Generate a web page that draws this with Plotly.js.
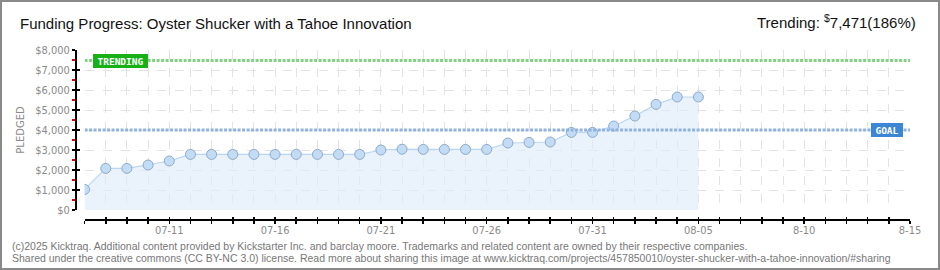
<!DOCTYPE html>
<html>
<head>
<meta charset="utf-8">
<script src="https://cdn.plot.ly/plotly-3.0.1.min.js"></script>
<style>
html,body{margin:0;padding:0;background:#fff;}
#wrap{position:relative;width:940px;height:270px;}
#chart{width:940px;height:270px;}
#border{position:absolute;left:0;top:0;width:940px;height:270px;box-sizing:border-box;border:2px solid #8a8a8a;pointer-events:none;}
</style>
</head>
<body>
<div id="wrap"><div id="chart"></div><div id="border"></div></div>
<script>
// ---- data ----
const dates = ['2025-07-07','2025-07-08','2025-07-09','2025-07-10','2025-07-11','2025-07-12','2025-07-13','2025-07-14','2025-07-15','2025-07-16','2025-07-17','2025-07-18','2025-07-19','2025-07-20','2025-07-21','2025-07-22','2025-07-23','2025-07-24','2025-07-25','2025-07-26','2025-07-27','2025-07-28','2025-07-29','2025-07-30','2025-07-31','2025-08-01','2025-08-02','2025-08-03','2025-08-04','2025-08-05'];
const pledged = [1030,2080,2080,2250,2450,2780,2780,2780,2780,2780,2780,2780,2780,2780,3000,3040,3030,3030,3030,3030,3350,3380,3400,3880,3880,4200,4700,5280,5650,5650];
const goal = 4000;
const trending = 7471;
const trendingLabel = 'Trending: <sup>$</sup>7,471(186%)';
const titleText = 'Funding Progress: Oyster Shucker with a Tahoe Innovation';
const xTickVals = ['2025-07-11','2025-07-16','2025-07-21','2025-07-26','2025-07-31','2025-08-05','2025-08-10','2025-08-15'];
const xTickText = ['07-11','07-16','07-21','07-26','07-31','08-05','8-10','8-15'];
const xRange = ['2025-07-07','2025-08-15'];
const yRange = [0, 8000];
const footer1 = '(c)2025 Kicktraq. Additional content provided by Kickstarter Inc. and barclay moore. Trademarks and related content are owned by their respective companies.';
const footer2 = 'Shared under the creative commons (CC BY-NC 3.0) license. Read more about sharing this image at www.kicktraq.com/projects/457850010/oyster-shucker-with-a-tahoe-innovation/#sharing';

// ---- layout geometry ----
const W = 940, H = 270;
const mL = 76, mR = 30, mT = 50, mB = 50;
const pw = W - mL - mR, ph = H - mT - mB;
const px = X => (X - mL) / pw;
const py = Y => (H - mB - Y) / ph;
const tickFont = {family: 'DejaVu Sans Condensed, DejaVu Sans, sans-serif', size: 11, color: '#8a8a8a'};

const trace = {
  x: dates, y: pledged, type: 'scatter', mode: 'lines+markers',
  fill: 'tozeroy', fillcolor: 'rgba(222,236,251,0.65)',
  line: {color: '#b9d6f3', width: 1.2},
  marker: {size: 10, color: '#c3dcf6', line: {color: '#8ea9c9', width: 1}},
  xaxis: 'x', yaxis: 'y', hoverinfo: 'skip'
};

const layout = {
  width: W, height: H,
  margin: {l: mL, r: mR, t: mT, b: mB},
  paper_bgcolor: '#fff', plot_bgcolor: '#fff',
  showlegend: false,
  title: {text: titleText, x: 20 / W, xanchor: 'left', y: 1 - 24 / H, yanchor: 'middle',
          font: {family: 'Liberation Sans, Arial, sans-serif', size: 15, color: '#111'}},
  xaxis: {
    type: 'date', range: xRange, domain: [px(84.6), 1],
    anchor: 'free', position: 0,
    tickvals: xTickVals, ticktext: xTickText,
    ticks: 'outside', ticklen: 3, tickcolor: '#000', tickwidth: 1.5, ticklabelstandoff: -3,
    showline: true, linecolor: '#000', linewidth: 2,
    showgrid: true, gridcolor: '#e3e3e3', griddash: 'dash', gridwidth: 1,
    minor: {dtick: 86400000, tick0: '2025-07-07', ticks: 'outside', ticklen: 3, tickcolor: '#000', tickwidth: 1.5,
            showgrid: true, gridcolor: '#e3e3e3', griddash: 'dash', gridwidth: 1},
    tickfont: tickFont, zeroline: false, fixedrange: true
  },
  xaxis2: {
    type: 'date', range: xRange, domain: [px(84.6), 1], overlaying: 'x',
    anchor: 'free', position: 0, showticklabels: false, showgrid: false,
    tickvals: xTickVals, ticks: 'inside', ticklen: 3, tickcolor: '#000', tickwidth: 1.5,
    minor: {dtick: 86400000, tick0: '2025-07-07', ticks: 'inside', ticklen: 3, tickcolor: '#000', tickwidth: 1.5, showgrid: false},
    showline: false
  },
  yaxis: {
    range: yRange, domain: [10 / ph, 1], anchor: 'free', position: 0,
    dtick: 1000, tickprefix: '$', tickformat: ',d',
    ticks: 'outside', ticklen: 3, tickcolor: '#000', tickwidth: 1.5,
    showline: true, linecolor: '#000', linewidth: 2,
    showgrid: true, gridcolor: '#e3e3e3', griddash: 'dash', gridwidth: 1,
    minor: {dtick: 500, ticks: 'outside', ticklen: 3, tickcolor: '#e00000', tickwidth: 1.5, showgrid: false},
    tickfont: tickFont, zeroline: false, fixedrange: true,
    title: {text: 'PLEDGED', standoff: 8, font: {family: 'DejaVu Sans, sans-serif', size: 10, color: '#8a8a8a'}}
  },
  yaxis2: {
    range: yRange, domain: [10 / ph, 1], overlaying: 'y', anchor: 'free', position: 0,
    dtick: 1000, ticks: 'inside', ticklen: 3, tickcolor: '#000', tickwidth: 1.5,
    showticklabels: false, showgrid: false, showline: false, zeroline: false
  },
  shapes: [
    {type: 'line', xref: 'x', yref: 'y', x0: xRange[0], x1: xRange[1], y0: trending, y1: trending,
     line: {color: '#84d184', width: 3, dash: '3px,1.5px'}, layer: 'above'},
    {type: 'line', xref: 'x', yref: 'y', x0: xRange[0], x1: xRange[1], y0: goal, y1: goal,
     line: {color: '#8fb2de', width: 3, dash: '3px,1.5px'}, layer: 'above'}
  ],
  annotations: [
    {text: trendingLabel, xref: 'paper', yref: 'paper', x: px(918), y: py(22), xanchor: 'right', yanchor: 'middle',
     showarrow: false, font: {family: 'Liberation Sans, Arial, sans-serif', size: 15, color: '#111'}},
    {text: '<b>TRENDING</b>', xref: 'x', yref: 'y', x: xRange[0], y: trending, xanchor: 'left', yanchor: 'middle', xshift: 8.5,
     width: 53, height: 12, borderpad: 1, borderwidth: 0,
     showarrow: false, bgcolor: '#17b017',
     font: {family: 'DejaVu Sans Mono, monospace', size: 9.5, color: '#fff'}},
    {text: '<b>GOAL</b>', xref: 'x', yref: 'y', x: xRange[1], y: goal, xanchor: 'right', yanchor: 'middle', xshift: -7,
     width: 30, height: 12, borderpad: 1, borderwidth: 0,
     showarrow: false, bgcolor: '#3b86d6',
     font: {family: 'DejaVu Sans Mono, monospace', size: 9.5, color: '#fff'}},
    {text: footer1, xref: 'paper', yref: 'paper', x: px(10), y: py(246.5), xanchor: 'left', yanchor: 'middle',
     showarrow: false, font: {family: 'Liberation Sans, Arial, sans-serif', size: 10.5, color: '#777'}},
    {text: footer2, xref: 'paper', yref: 'paper', x: px(10), y: py(257.5), xanchor: 'left', yanchor: 'middle',
     showarrow: false, font: {family: 'Liberation Sans, Arial, sans-serif', size: 10.5, color: '#777'}}
  ]
};

Plotly.newPlot('chart', [trace, {x: [xRange[0]], y: [0], xaxis: 'x2', yaxis: 'y2', mode: 'markers', marker: {opacity: 0}, hoverinfo: 'skip'}], layout, {displayModeBar: false, staticPlot: true});
</script>
</body>
</html>
